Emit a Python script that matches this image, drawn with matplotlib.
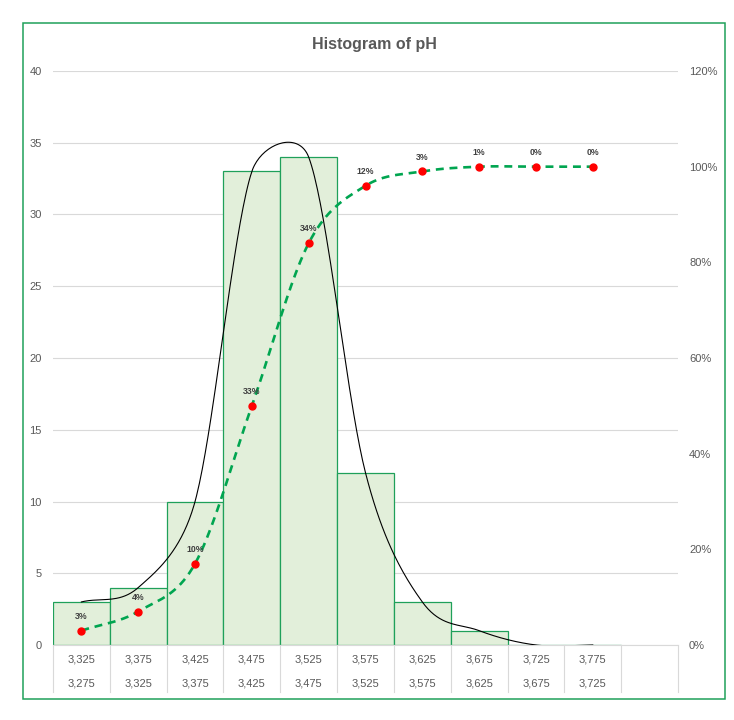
import numpy as np
import matplotlib
matplotlib.use("Agg")
import matplotlib.pyplot as plt
from matplotlib.patches import Rectangle
from matplotlib.transforms import blended_transform_factory

#data
upper_edges = ["3,325", "3,375", "3,425", "3,475", "3,525", "3,575", "3,625", "3,675", "3,725", "3,775", ""]
lower_edges = ["3,275", "3,325", "3,375", "3,425", "3,475", "3,525", "3,575", "3,625", "3,675", "3,725", ""]
counts = [3, 4, 10, 33, 34, 12, 3, 1, 0, 0]
bin_pct = ["3%", "4%", "10%", "33%", "34%", "12%", "3%", "1%", "0%", "0%"]
cum_frac = [0.03, 0.07, 0.17, 0.50, 0.84, 0.96, 0.99, 1.00, 1.00, 1.00]

#style
grey = "#595959"
green = "#1FA05A"
plt.rcParams['font.family'] = ['Liberation Sans', 'DejaVu Sans']

W, H = 734, 720
fig = plt.figure(figsize=(W / 100, H / 100), dpi=100)
fig.patches.append(Rectangle((22.5 / W, 1 - 699 / H), (725 - 22.5) / W, (699 - 22.5) / H,
                             transform=fig.transFigure, fill=False, edgecolor=green, lw=1.1))

ax = fig.add_axes([53 / W, 1 - 645 / H, 625 / W, 574 / H])
ax2 = ax.twinx()
n_cat = len(upper_edges)
xc = np.arange(len(counts))
ax.set_xlim(-0.5, n_cat - 0.5)
ax.set_ylim(0, 40)
ax2.set_ylim(0, 1.2)


def excel_smooth(axis, xs, ys, n=40):
    # bezier smoothing like excel's "smoothed line", computed in pixel space
    P = axis.transData.transform(np.column_stack([xs, ys]))
    out = [P[0]]
    for i in range(len(P) - 1):
        p1, p2 = P[i], P[i + 1]
        p0 = P[i - 1] if i > 0 else None
        p3 = P[i + 2] if i + 2 < len(P) else None
        d12 = np.hypot(*(p2 - p1))
        if p0 is None:
            c1 = p1 + (p2 - p1) / 3
        else:
            d02 = np.hypot(*(p2 - p0))
            f = min(1 / 6, d12 / (2 * d02)) if d02 > 0 else 0
            c1 = p1 + f * (p2 - p0)
        if p3 is None:
            c2 = p2 - (p2 - p1) / 3
        else:
            d13 = np.hypot(*(p3 - p1))
            f = min(1 / 6, d12 / (2 * d13)) if d13 > 0 else 0
            c2 = p2 - f * (p3 - p1)
        t = np.linspace(0, 1, n)[1:, None]
        seg = (1 - t) ** 3 * p1 + 3 * (1 - t) ** 2 * t * c1 + 3 * (1 - t) * t ** 2 * c2 + t ** 3 * p2
        out.extend(seg)
    out = np.array(out)
    return axis.transData.inverted().transform(out)


# gridlines
ax.set_yticks(np.arange(0, 41, 5))
ax.yaxis.grid(True, color="#D9D9D9", lw=0.8)
ax.set_axisbelow(True)
ax2.set_yticks(np.arange(0, 1.21, 0.2))
ax2.set_yticklabels([f"{int(round(v * 100))}%" for v in np.arange(0, 1.21, 0.2)])

for a in (ax, ax2):
    for s in a.spines.values():
        s.set_visible(False)
    a.tick_params(length=0, labelsize=8, labelcolor=grey)
ax.tick_params(axis="y", pad=8)
ax2.tick_params(axis="y", pad=8)
ax.spines["bottom"].set_visible(True)
ax.spines["bottom"].set_color("#D9D9D9")
ax.set_xticks([])

# bars
ax.bar(xc, counts, width=1.0, color="#E2EFDA", edgecolor=green, lw=0.9, zorder=2)

# smoothed count curve
sm = excel_smooth(ax, xc, counts)
ax.plot(sm[:, 0], sm[:, 1], color="black", lw=0.8, zorder=3)

# cumulative curve
sc = excel_smooth(ax2, xc, cum_frac)
ax2.plot(sc[:, 0], sc[:, 1], color="#00A550", lw=1.9, linestyle=(0, (3, 2.2)), zorder=3)
ax2.plot(xc, cum_frac, "o", color="#FF0000", ms=5, zorder=4)
for x, y, lab in zip(xc, cum_frac, bin_pct):
    ax2.annotate(lab, (x, y), xytext=(0, 7), textcoords="offset points", ha="center",
                 va="bottom", fontsize=6.3, fontweight="bold", color="#404040")

# category table below the axis
bt = blended_transform_factory(ax.transData, ax.transAxes)
drop = 47 / 574
for i in range(n_cat + 1):
    ax.plot([i - 0.5, i - 0.5], [0, -drop], transform=bt, color="#D9D9D9", lw=0.8, clip_on=False)
for i in range(n_cat):
    ax.text(i, -15 / 574, upper_edges[i], transform=bt, ha="center", va="center", fontsize=8, color=grey)
    ax.text(i, -38 / 574, lower_edges[i], transform=bt, ha="center", va="center", fontsize=8, color=grey)

fig.text(374 / W, 1 - 45 / H, "Histogram of pH", ha="center", va="center",
         fontsize=11.5, fontweight="bold", color=grey,
         family=["Liberation Sans Narrow", "Liberation Sans", "DejaVu Sans"])

fig.savefig("out.png", dpi=100)
